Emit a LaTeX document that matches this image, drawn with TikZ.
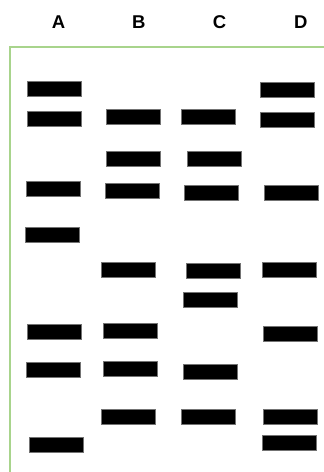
\documentclass[tikz,border=0pt]{standalone}
\usepackage{fontspec}
\setmainfont{Liberation Sans}
\begin{document}
\begin{tikzpicture}[x=1pt,y=-1pt,
  bar/.style={fill=black,draw=black!55,line width=0.6pt,minimum width=54pt,minimum height=15pt,inner sep=0pt},
  lane/.style={font=\bfseries\fontsize{18.5}{22}\selectfont,inner sep=0pt},
  frame/.style={draw={rgb,255:red,168;green,212;blue,140},line width=1.8pt}]
\useasboundingbox (0,0) rectangle (324,472);
\coordinate (fb) at (10.3,480);
\coordinate (fc) at (10.3,47);
\coordinate (fr) at (330,47);
\draw[frame] (fb) -- (fc) -- (fr);
\node[lane] (LA) at (58.5,21.7) {A};
\node[lane] (LB) at (138.7,21.7) {B};
\node[lane] (LC) at (219.5,21.7) {C};
\node[lane] (LD) at (300.8,21.7) {D};
\node[bar] (A1) at (54.7,89.2) {};
\node[bar] (A2) at (54.7,118.3) {};
\node[bar] (A3) at (53.5,189.2) {};
\node[bar] (A4) at (52.3,234.3) {};
\node[bar] (A5) at (54.7,332.2) {};
\node[bar] (A6) at (53.5,370) {};
\node[bar] (A7) at (56,444.7) {};
\node[bar] (B2) at (133.3,116.8) {};
\node[bar] (B3) at (133.3,158.5) {};
\node[bar] (B4) at (132,190.3) {};
\node[bar] (B5) at (128.3,269.8) {};
\node[bar] (B6) at (130.7,331) {};
\node[bar] (B7) at (130.7,368.8) {};
\node[bar] (B8) at (128.3,416.7) {};
\node[bar] (C2) at (208,116.8) {};
\node[bar] (C3) at (214.2,158.5) {};
\node[bar] (C4) at (211.5,192.8) {};
\node[bar] (C5) at (213,270.3) {};
\node[bar] (C6) at (210.3,300.2) {};
\node[bar] (C7) at (210.3,371.5) {};
\node[bar] (C8) at (208,416.7) {};
\node[bar] (D1) at (287,90.2) {};
\node[bar] (D2) at (287,119.3) {};
\node[bar] (D3) at (291.3,192.8) {};
\node[bar] (D4) at (288.8,269.8) {};
\node[bar] (D5) at (290,333.5) {};
\node[bar] (D6) at (290,416.7) {};
\node[bar] (D7) at (288.8,443) {};
\end{tikzpicture}
\end{document}
